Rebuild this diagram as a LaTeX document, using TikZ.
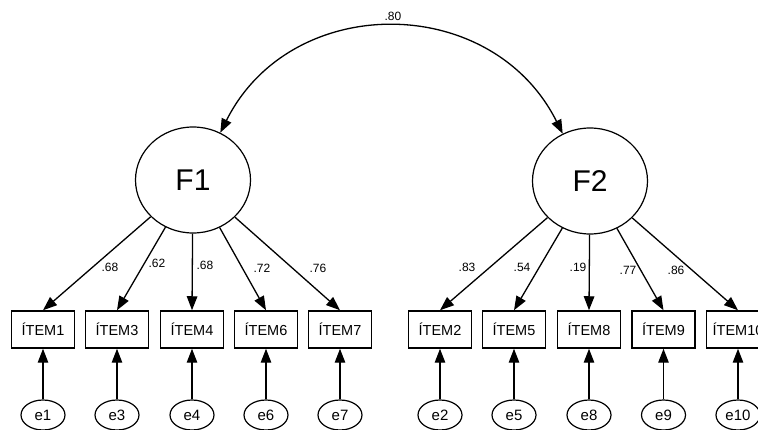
\documentclass[tikz,border=0pt]{standalone}
\usepackage{fontspec}
\setmainfont{Liberation Sans}
\usetikzlibrary{arrows.meta,shapes.geometric}
\begin{document}
\begin{tikzpicture}[x=1pt,y=1pt,
  tip/.style={-{Triangle[length=14pt,width=10.5pt]}},
  latent/.style={draw,ellipse,line width=1.2pt,inner sep=0pt,minimum width=115pt,minimum height=106pt,font=\fontsize{30}{32}\selectfont},
  obs/.style={draw,rectangle,line width=1.5pt,inner sep=0pt,minimum width=63pt,minimum height=37pt,font=\fontsize{14.5}{16}\selectfont},
  err/.style={draw,ellipse,line width=1.2pt,inner sep=0pt,minimum width=44pt,minimum height=30pt,font=\fontsize{15}{17}\selectfont},
  lab/.style={font=\fontsize{12}{14}\selectfont,inner sep=0pt},
  conn/.style={line width=1.3pt}]
\useasboundingbox (0,0) rectangle (758,-430);
\node[latent] (F1) at (193,-180) {F1};
\node[latent] (F2) at (590,-181) {F2};
% observed items
\node[obs] (i1) at (43,-329.5) {ÍTEM1};
\node[obs] (i3) at (117,-329.5) {ÍTEM3};
\node[obs] (i4) at (192,-329.5) {ÍTEM4};
\node[obs] (i6) at (266,-329.5) {ÍTEM6};
\node[obs] (i7) at (340,-329.5) {ÍTEM7};
\node[obs] (i2) at (440,-329.5) {ÍTEM2};
\node[obs] (i5) at (514,-329.5) {ÍTEM5};
\node[obs] (i8) at (589,-329.5) {ÍTEM8};
\node[obs] (i9) at (663.5,-329.5) {ÍTEM9};
\node[obs] (i10) at (738,-329.5) {ÍTEM10};
% errors
\node[err] (e1) at (43,-415) {e1};
\node[err] (e3) at (117,-415) {e3};
\node[err] (e4) at (192,-415) {e4};
\node[err] (e6) at (266,-415) {e6};
\node[err] (e7) at (340,-415) {e7};
\node[err] (e2) at (440,-415) {e2};
\node[err] (e5) at (514,-415) {e5};
\node[err] (e8) at (589,-415) {e8};
\node[err] (e9) at (663.5,-415) {e9};
\node[err] (e10) at (738,-415) {e10};
% covariance
\draw[conn,{Triangle[length=14pt,width=10.5pt]}-{Triangle[length=14pt,width=10.5pt]}] (F1.60) to[out=63.4,in=116.6,distance=158pt] (F2.120);
\node[lab] (c12) at (393,-16) {.80};
% loadings
\foreach \i in {i1,i3,i4,i6,i7} {\draw[conn,tip] (F1) -- (\i.north);}
\foreach \i in {i2,i5,i8,i9,i10} {\draw[conn,tip] (F2) -- (\i.north);}
\foreach \e/\i in {e1/i1,e3/i3,e4/i4,e6/i6,e7/i7,e2/i2,e5/i5,e8/i8,e9/i9,e10/i10} {\draw[conn,tip] (\e.north) -- (\i.south);}
\node[lab] (l1) at (110,-267) {.68};
\node[lab] (l3) at (157,-263) {.62};
\node[lab] (l4) at (205,-265) {.68};
\node[lab] (l6) at (262,-268) {.72};
\node[lab] (l7) at (318,-268) {.76};
\node[lab] (l2) at (467,-267) {.83};
\node[lab] (l5) at (522,-267) {.54};
\node[lab] (l8) at (578,-267) {.19};
\node[lab] (l9) at (628,-270) {.77};
\node[lab] (l10) at (676,-270) {.86};
\end{tikzpicture}
\end{document}
